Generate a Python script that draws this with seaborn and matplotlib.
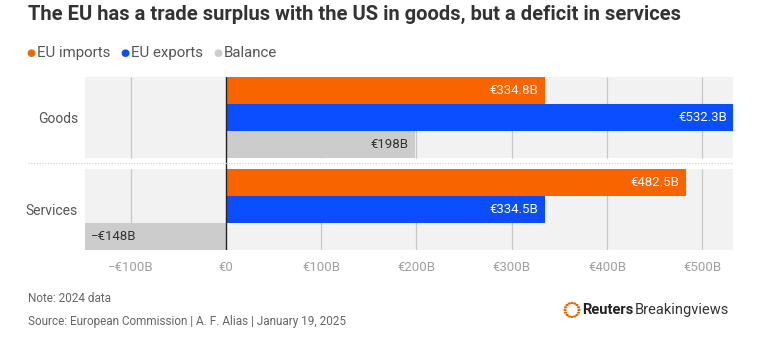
import matplotlib
matplotlib.use("Agg")
import matplotlib.pyplot as plt
import seaborn as sns
import pandas as pd
import numpy as np
from matplotlib.patches import Circle
from matplotlib.lines import Line2D

categories = ["Goods", "Services"]
series = ["EU imports", "EU exports", "Balance"]
imports_vals = [334.8, 482.5]
exports_vals = [532.3, 334.5]
balance_vals = [198, -148]
xticks = [-100, 0, 100, 200, 300, 400, 500]
xtick_labels = ["\u2212€100B", "€0", "€100B", "€200B", "€300B", "€400B", "€500B"]
colors = {"EU imports": "#F76400", "EU exports": "#0A4EFF", "Balance": "#CCCCCC"}

rows = []
for s, vals in zip(series, [imports_vals, exports_vals, balance_vals]):
    for c, v in zip(categories, vals):
        rows.append({"category": c, "series": s, "value": v})
df = pd.DataFrame(rows)

sns.set_style("white")
plt.rcParams["font.family"] = ["Roboto", "DejaVu Sans"]

W, H = 783, 344
fig = plt.figure(figsize=(W / 100, H / 100), dpi=100)
ax = fig.add_axes([85 / W, 1 - 250 / H, 648 / W, 173 / H])

BW = 0.88
sns.barplot(data=df, x="value", y="category", hue="series", hue_order=series,
            order=categories, palette=colors, width=BW, orient="h",
            legend=False, ax=ax, saturation=1, linewidth=0, zorder=3)

ax.set_xlim(-148, 532.3)
ax.set_ylim(1 + BW / 2, -BW / 2)

for i in range(len(categories)):
    ax.axhspan(i - BW / 2, i + BW / 2, color="#F2F2F2", zorder=0, lw=0)
    ax.vlines([t for t in xticks if t != 0], i - BW / 2, i + BW / 2,
              color="#C8C8C8", lw=0.9, zorder=1)
ax.axvline(0, color="#222222", lw=1.0, zorder=4)

fig.add_artist(Line2D([28 / W, 733 / W], [1 - 163 / H, 1 - 163 / H],
                      color="#CCCCCC", lw=0.8, ls=(0, (1, 1.5))))

for s, cont in zip(series, ax.containers):
    for bar in cont:
        w = bar.get_width()
        yc = bar.get_y() + bar.get_height() / 2
        txtcol = "white" if s != "Balance" else "#333333"
        if w >= 0:
            lab = f"€{w:g}B"
            ax.annotate(lab, (w, yc), xytext=(-4.5, 0), textcoords="offset points",
                        ha="right", va="center", color=txtcol, fontsize=9.5, zorder=5)
        else:
            lab = f"\u2212€{abs(w):g}B"
            ax.annotate(lab, (w, yc), xytext=(4.5, 0), textcoords="offset points",
                        ha="left", va="center", color=txtcol, fontsize=9.5, zorder=5)

ax.set_xticks(xticks)
ax.set_xticklabels(xtick_labels)
ax.tick_params(axis="x", length=0, pad=8, labelsize=9.5, labelcolor="#A0A0A0")
ax.tick_params(axis="y", length=0, pad=5, labelsize=10, labelcolor="#555555")
ax.set_xlabel("")
ax.set_ylabel("")
for sp in ax.spines.values():
    sp.set_visible(False)
ax.set_facecolor("none")

fig.text(28 / W, 1 - 14 / H, "The EU has a trade surplus with the US in goods, but a deficit in services",
         fontsize=14.5, fontweight="bold", color="#333333", ha="left", va="center")

lx = [31, 125, 218]
for x, s in zip(lx, series):
    fig.text(x / W, 1 - 53 / H, "\u25CF", color=colors[s], fontsize=7.5,
             ha="center", va="center", family=["DejaVu Sans"])
    fig.text((x + 6) / W, 1 - 53 / H, s, color="#555555", fontsize=10.8,
             ha="left", va="center")

fig.text(28 / W, 1 - 299 / H, "Note: 2024 data", fontsize=8.5, color="#666666",
         ha="left", va="center")
fig.text(28 / W, 1 - 322 / H, "Source: European Commission | A. F. Alias | January 19, 2025",
         fontsize=8.5, color="#666666", ha="left", va="center")

cx, cy = 572, 310
angs = np.linspace(0, 2 * np.pi, 16, endpoint=False)
for a in angs:
    fig.add_artist(Circle(((cx + 7 * np.cos(a)) / W, (H - cy + 7 * np.sin(a)) / H),
                          radius=0.9 / W, color="#E06A10", transform=fig.transFigure))
t1 = fig.text(582 / W, 1 - 310 / H, "Reuters", fontsize=10.5, fontweight="bold",
              color="#222222", ha="left", va="center")
fig.canvas.draw()
bb = t1.get_window_extent(fig.canvas.get_renderer())
fig.text((bb.x1 + 1.5) / W, 1 - 310 / H, "Breakingviews", fontsize=10.5, color="#333333",
         ha="left", va="center")

fig.savefig("out.png", dpi=100)
